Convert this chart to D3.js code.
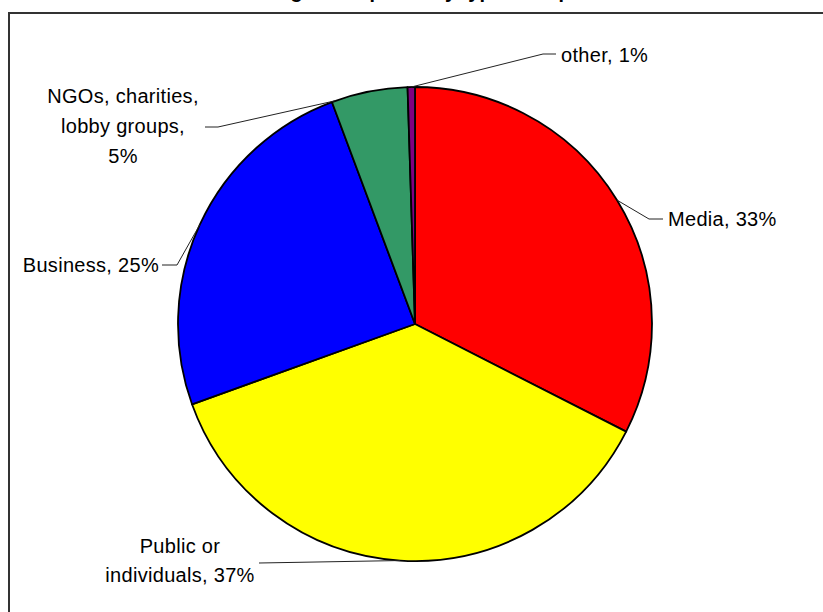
<!DOCTYPE html>
<html>
<head>
<meta charset="UTF-8">
<title>Requests by type of requester</title>
<script src="https://d3js.org/d3.v7.min.js"></script>
<style>
  body { margin: 0; background: #fff; }
  svg { display: block; }
  text { font-family: "Liberation Sans", Arial, sans-serif; fill: #000; }
</style>
</head>
<body>
<div id="chart"></div>
<script>
// data
var categories = ["Media", "Public or individuals", "Business", "NGOs, charities, lobby groups", "other"];
var shares = [32.5, 37.0, 24.8, 5.2, 0.5];
var pctLabels = ["33%", "37%", "25%", "5%", "1%"];
// how each label is broken into lines
var labelLines = [
    ["Media, 33%"],
    ["Public or", "individuals, 37%"],
    ["Business, 25%"],
    ["NGOs, charities,", "lobby groups,", "5%"],
    ["other, 1%"]
];
var colours = ["#ff0000", "#ffff00", "#0000ff", "#339966", "#800080"];

var width = 823, height = 612;
var cx = 415, cy = 324, radius = 237;

var svg = d3.select("#chart").append("svg")
    .attr("width", width)
    .attr("height", height);

// chart frame (runs off the right and bottom of the picture)
svg.append("rect")
    .attr("x", 9)
    .attr("y", 13)
    .attr("width", 830)
    .attr("height", 620)
    .style("fill", "#fff")
    .style("stroke", "#333")
    .style("stroke-width", 2);

// title, cut off at the top just like the original
svg.append("text")
    .attr("x", 415)
    .attr("y", -2)
    .attr("text-anchor", "middle")
    .style("font-size", "20px")
    .style("font-weight", "bold")
    .text("Percentage of requests by type of requester");

var data = categories.map(function (c, i) {
    return { name: c, value: shares[i], pct: pctLabels[i], lines: labelLines[i], colour: colours[i] };
});

var pie = d3.pie()
    .sort(null)
    .value(function (d) { return d.value; });

var arc = d3.arc()
    .innerRadius(0)
    .outerRadius(radius);

var arcs = pie(data);

var g = svg.append("g")
    .attr("transform", "translate(" + cx + "," + cy + ")");

g.selectAll("path.slice")
    .data(arcs)
    .enter()
    .append("path")
    .attr("class", "slice")
    .attr("d", arc)
    .style("fill", function (d) { return d.data.colour; })
    .style("stroke", "#000")
    .style("stroke-width", 1.8)
    .style("stroke-linejoin", "round");

// label placement (layout only): where along the slice the leader starts,
// the elbow/end of the leader, and the text block position
var labelLayout = [
    { t: 0.5,  elbow: [649, 219], end: [663, 219], tx: 668, ty: [219], anchor: "start" },
    { t: 0.5,  elbow: null,       end: [259, 563], tx: 180, ty: [546, 575], anchor: "middle" },
    { t: 0.5,  elbow: [177, 265], end: [162, 265], tx: 159, ty: [265], anchor: "end" },
    { t: 0.05, elbow: [218, 127], end: [205, 127], tx: 123, ty: [96, 126, 156], anchor: "middle" },
    { t: 0.5,  elbow: [543, 54],  end: [556, 54],  tx: 561, ty: [55], anchor: "start" }
];

function edgePoint(d, t) {
    var a = d.startAngle + (d.endAngle - d.startAngle) * t;
    return [cx + radius * Math.sin(a), cy - radius * Math.cos(a)];
}

var line = d3.line();

arcs.forEach(function (d, i) {
    var lay = labelLayout[i];
    var pts = [edgePoint(d, lay.t)];
    if (lay.elbow) pts.push(lay.elbow);
    pts.push(lay.end);

    svg.append("path")
        .attr("d", line(pts))
        .style("fill", "none")
        .style("stroke", "#222")
        .style("stroke-width", 1);

    var txt = svg.append("text")
        .attr("text-anchor", lay.anchor)
        .style("font-size", "20px")
        .style("letter-spacing", "0.3px");

    d.data.lines.forEach(function (l, k) {
        txt.append("tspan")
            .attr("x", lay.tx)
            .attr("y", lay.ty[k])
            .attr("dy", "0.35em")
            .text(l);
    });
});
</script>
</body>
</html>
